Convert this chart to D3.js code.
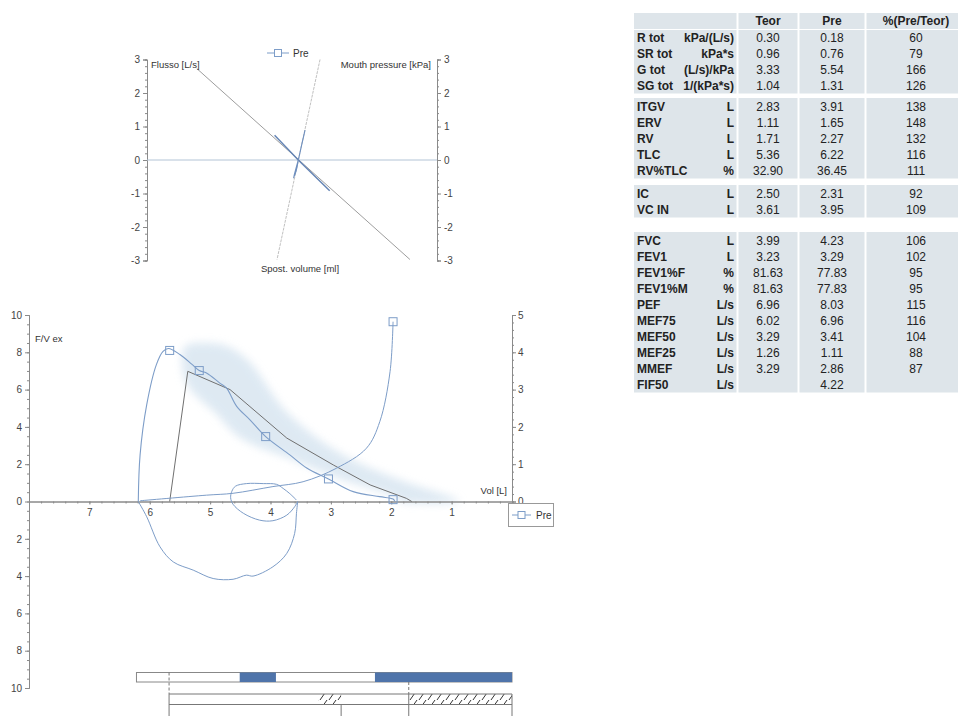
<!DOCTYPE html>
<html>
<head>
<meta charset="utf-8">
<script src="https://cdn.jsdelivr.net/npm/d3@7"></script>
<style>
body { margin: 0; background: #fff; }
svg text { font-family: "Liberation Sans", Arial, sans-serif; }
</style>
</head>
<body>
<div id="main"></div>
<script>
// ---- top chart (resistance loop) ----
const topFlowLine = [[-1.97, 2.73], [2.44, -2.97]];
const topVolLine = [[0.58, 3.0], [-0.31, -2.97]];
const topLoopDiag = [[-0.36, 0.74], [0.13, 0.0], [0.78, -0.92]];
const topLoopSteep = [[0.27, 0.89], [0.2, 0.45], [0.13, 0], [0.03, -0.54], [0.09, -0.3], [0.13, 0]];
const topTicks = [-3, -2, -1, 0, 1, 2, 3];

// ---- flow / volume chart ----
const fvPred = [[5.67, 0], [5.37, 6.98], [4.67, 6.0], [3.73, 3.4], [2.96, 1.96], [2.35, 0.89], [1.75, 0.17], [1.66, 0]];
const fvBandUpper = [[5.42, 8.3], [5.0, 8.5], [4.7, 8.3], [4.35, 7.5], [3.73, 4.8], [2.85, 2.6], [1.86, 1.16], [0.98, 0.2], [0.86, 0]];
const fvBandLower = [[1.85, 0], [1.91, 0.2], [2.85, 1.2], [3.68, 2.3], [4.5, 3.4], [4.9, 4.7], [5.4, 6.4]];
const fvExp = [[6.19, 0], [6.16, 2.5], [6.05, 5.19], [5.89, 7.34], [5.78, 8.05], [5.69, 8.2], [5.5, 7.88], [5.3, 7.35],
  [5.18, 7.02], [5.06, 6.89], [4.84, 6.35], [4.73, 6.09], [4.56, 5.1], [4.34, 4.38], [4.08, 3.48], [3.68, 2.5],
  [3.4, 1.8], [3.04, 1.21], [2.63, 0.53], [2.19, 0.26], [1.97, 0.13], [1.94, 0]];
const fvInsp = [[6.19, 0], [6.05, -0.82], [5.83, -2.43], [5.61, -3.24], [5.28, -3.68], [4.95, -4.13], [4.62, -4.17],
  [4.4, -3.95], [4.29, -4.0], [3.96, -3.5], [3.73, -2.78], [3.6, -1.71], [3.57, -0.63], [3.55, 0]];
const fvTidal = [[3.55, 0], [3.6, -0.28], [3.73, -0.73], [3.96, -1.03], [4.18, -1.0], [4.45, -0.63], [4.62, -0.15],
  [4.66, 0.2], [4.64, 0.55], [4.58, 0.82], [4.4, 0.96], [4.12, 0.96], [3.9, 0.92], [3.79, 0.7], [3.68, 0.42], [3.57, 0.08]];
const fvVolTime = [[6.16, 0.02], [5.06, 0.17], [4.62, 0.22], [3.96, 0.4], [3.46, 0.53], [2.91, 0.89], [2.41, 1.43],
  [2.19, 2.14], [2.02, 3.48], [1.97, 4.82]];
const fvMarkers = [[5.67, 8.1], [5.18, 7.02], [4.08, 3.48], [3.04, 1.21], [1.97, 0.1]];
const volTimeMarkers = [[1.97, 4.82]];
const xTicks = [7, 6, 5, 4, 3, 2, 1];
const yLeftTicks = [-10, -8, -6, -4, -2, 0, 2, 4, 6, 8, 10];
const yRightTicks = [0, 1, 2, 3, 4, 5];

// ---- lung volume bars ----
const barMeasured = [6.22, 0];
const barMeasuredFill = [[4.51, 3.91], [2.27, 0]];
const barPred = [5.68, 0];
const barPredHatch = [[3.21, 2.83], [1.71, 0]];

// ---- table ----
const tabHeader = ["Teor", "Pre", "%(Pre/Teor)"];
const tabLabels = ["R tot", "SR tot", "G tot", "SG tot", "ITGV", "ERV", "RV", "TLC", "RV%TLC", "IC", "VC IN",
  "FVC", "FEV1", "FEV1%F", "FEV1%M", "PEF", "MEF75", "MEF50", "MEF25", "MMEF", "FIF50"];
const tabUnits = ["kPa/(L/s)", "kPa*s", "(L/s)/kPa", "1/(kPa*s)", "L", "L", "L", "L", "%", "L", "L",
  "L", "L", "%", "%", "L/s", "L/s", "L/s", "L/s", "L/s", "L/s"];
const tabTeor = ["0.30", "0.96", "3.33", "1.04", "2.83", "1.11", "1.71", "5.36", "32.90", "2.50", "3.61",
  "3.99", "3.23", "81.63", "81.63", "6.96", "6.02", "3.29", "1.26", "3.29", ""];
const tabPre = ["0.18", "0.76", "5.54", "1.31", "3.91", "1.65", "2.27", "6.22", "36.45", "2.31", "3.95",
  "4.23", "3.29", "77.83", "77.83", "8.03", "6.96", "3.41", "1.11", "2.86", "4.22"];
const tabPct = ["60", "79", "166", "126", "138", "148", "132", "116", "111", "92", "109",
  "106", "102", "95", "95", "115", "116", "104", "88", "87", ""];
const tabGroups = [4, 5, 2, 10];

const blue = "#7d9dc8";
const plain = d => String(d);

const svg = d3.select("#main").append("svg")
  .attr("width", 958).attr("height", 716);

const defs = svg.append("defs");
defs.append("filter").attr("id", "soft")
  .append("feGaussianBlur").attr("stdDeviation", 4);
const hatch = defs.append("pattern").attr("id", "hatch")
  .attr("patternUnits", "userSpaceOnUse").attr("width", 9).attr("height", 10);
hatch.append("path").attr("d", "M-4,10 L3,0 M5,10 L12,0")
  .attr("stroke", "#333").attr("stroke-width", 1);

function styleAxis(g) {
  g.selectAll("path, line").attr("stroke", "#8a8a8a");
  g.selectAll("text").attr("fill", "#444").style("font-size", "10px");
}

function CreateTop() {
  let x = d3.scaleLinear().domain([-3, 3]).range([147, 437]);
  let y = d3.scaleLinear().domain([-3, 3]).range([260.5, 59.5]);
  let g = svg.append("g");
  let minor = d3.range(-3, 3.01, 0.2);

  g.append("g").attr("transform", "translate(147,0)")
    .call(d3.axisLeft(y).tickValues(minor).tickSize(2).tickFormat(""))
    .call(styleAxis);
  g.append("g").attr("transform", "translate(147,0)")
    .call(d3.axisLeft(y).tickValues(topTicks).tickSize(4).tickPadding(3).tickFormat(plain))
    .call(styleAxis);
  g.append("g").attr("transform", "translate(437,0)")
    .call(d3.axisRight(y).tickValues(minor).tickSize(2).tickFormat(""))
    .call(styleAxis);
  g.append("g").attr("transform", "translate(437,0)")
    .call(d3.axisRight(y).tickValues(topTicks).tickSize(4).tickPadding(3).tickFormat(plain))
    .call(styleAxis);

  g.append("line")
    .attr("x1", x(-3)).attr("x2", x(3)).attr("y1", y(0)).attr("y2", y(0))
    .attr("stroke", "#b3c4d6");

  let line = d3.line().x(d => x(d[0])).y(d => y(d[1]));
  g.append("path").attr("d", line(topFlowLine))
    .attr("fill", "none").attr("stroke", "#9d9d9d").attr("stroke-width", 1);
  g.append("path").attr("d", line(topVolLine))
    .attr("fill", "none").attr("stroke", "#b0b0b0").attr("stroke-width", 0.8)
    .attr("stroke-dasharray", "3,1");
  g.append("path").attr("d", line(topLoopDiag))
    .attr("fill", "none").attr("stroke", "#6585b5").attr("stroke-width", 1.5);
  g.append("path").attr("d", line.curve(d3.curveCatmullRom)(topLoopSteep))
    .attr("fill", "none").attr("stroke", "#6e8fbf").attr("stroke-width", 1.1);

  // labels
  g.append("text").attr("x", 151).attr("y", 68).text("Flusso [L/s]")
    .style("font-size", "9.5px").attr("fill", "#333");
  g.append("text").attr("x", 431).attr("y", 68).attr("text-anchor", "end").text("Mouth pressure [kPa]")
    .style("font-size", "9.5px").attr("fill", "#333");
  g.append("text").attr("x", 300).attr("y", 272).attr("text-anchor", "middle").text("Spost. volume [ml]")
    .style("font-size", "9.5px").attr("fill", "#333");

  // legend
  g.append("line").attr("x1", 267).attr("x2", 289).attr("y1", 53).attr("y2", 53)
    .attr("stroke", blue);
  g.append("rect").attr("x", 274.5).attr("y", 49.5).attr("width", 7).attr("height", 7)
    .attr("fill", "#fff").attr("stroke", blue);
  g.append("text").attr("x", 293).attr("y", 57).text("Pre")
    .style("font-size", "10px").attr("fill", "#333");
}

function CreateFlowVolume() {
  let x = d3.scaleLinear().domain([8, 0]).range([29, 512]);
  let y = d3.scaleLinear().domain([-10, 10]).range([688, 315]);
  let yr = d3.scaleLinear().domain([0, 5]).range([501.5, 315]);
  let g = svg.append("g");

  // predicted band
  let band = fvBandUpper.concat(fvBandLower);
  g.append("path")
    .attr("d", d3.line().x(d => x(d[0])).y(d => y(d[1])).curve(d3.curveCatmullRomClosed)(band))
    .attr("fill", "#d6e4f0").attr("opacity", 0.8).attr("filter", "url(#soft)");

  // axes
  g.append("g").attr("transform", `translate(0,${y(0)})`)
    .call(d3.axisBottom(x).tickValues(d3.range(0.2, 8, 0.2)).tickSize(2).tickFormat(""))
    .call(styleAxis);
  g.append("g").attr("transform", `translate(0,${y(0)})`)
    .call(d3.axisBottom(x).tickValues(xTicks).tickSize(3).tickPadding(4).tickFormat(plain))
    .call(styleAxis);
  g.append("g").attr("transform", "translate(29,0)")
    .call(d3.axisLeft(y).tickValues(d3.range(-10, 10.01, 0.5)).tickSize(2).tickFormat(""))
    .call(styleAxis);
  g.append("g").attr("transform", "translate(29,0)")
    .call(d3.axisLeft(y).tickValues(yLeftTicks).tickSize(4).tickPadding(3).tickFormat(d => Math.abs(d)))
    .call(styleAxis);
  g.append("g").attr("transform", `translate(${x(0)},0)`)
    .call(d3.axisRight(yr).tickValues(d3.range(0, 5.01, 0.2)).tickSize(2).tickFormat(""))
    .call(styleAxis);
  g.append("g").attr("transform", `translate(${x(0)},0)`)
    .call(d3.axisRight(yr).tickValues(yRightTicks).tickSize(4).tickPadding(2).tickFormat(plain))
    .call(styleAxis);

  let line = d3.line().x(d => x(d[0])).y(d => y(d[1]));
  let smooth = d3.line().x(d => x(d[0])).y(d => y(d[1])).curve(d3.curveCatmullRom);
  let smoothR = d3.line().x(d => x(d[0])).y(d => yr(d[1])).curve(d3.curveCatmullRom);

  g.append("path").attr("d", line(fvPred))
    .attr("fill", "none").attr("stroke", "#707070").attr("stroke-width", 1);
  g.append("path").attr("d", smooth(fvExp))
    .attr("fill", "none").attr("stroke", blue).attr("stroke-width", 1.1);
  g.append("path").attr("d", smooth(fvInsp))
    .attr("fill", "none").attr("stroke", blue).attr("stroke-width", 1);
  g.append("path").attr("d", smooth(fvTidal))
    .attr("fill", "none").attr("stroke", blue).attr("stroke-width", 1);
  g.append("path").attr("d", smoothR(fvVolTime))
    .attr("fill", "none").attr("stroke", blue).attr("stroke-width", 1);

  g.selectAll(".mk").data(fvMarkers).enter().append("rect")
    .attr("x", d => x(d[0]) - 4).attr("y", d => y(d[1]) - 4)
    .attr("width", 8).attr("height", 8)
    .attr("fill", "none").attr("stroke", blue);
  g.selectAll(".mkr").data(volTimeMarkers).enter().append("rect")
    .attr("x", d => x(d[0]) - 4).attr("y", d => yr(d[1]) - 4)
    .attr("width", 8).attr("height", 8)
    .attr("fill", "none").attr("stroke", blue);

  g.append("text").attr("x", 35).attr("y", 342).text("F/V ex")
    .style("font-size", "9.5px").attr("fill", "#333");
  g.append("text").attr("x", 507).attr("y", 494).attr("text-anchor", "end").text("Vol [L]")
    .style("font-size", "9.5px").attr("fill", "#333");

  // legend box
  g.append("rect").attr("x", 508.5).attr("y", 503.5).attr("width", 45).attr("height", 23)
    .attr("fill", "#fff").attr("stroke", "#999");
  g.append("line").attr("x1", 512).attr("x2", 531).attr("y1", 515).attr("y2", 515)
    .attr("stroke", blue);
  g.append("rect").attr("x", 518).attr("y", 511.5).attr("width", 7).attr("height", 7)
    .attr("fill", "#fff").attr("stroke", blue);
  g.append("text").attr("x", 536).attr("y", 519).text("Pre")
    .style("font-size", "10px").attr("fill", "#333");

  // lung volume bars
  let b = svg.append("g");
  b.append("rect").attr("x", x(barMeasured[0])).attr("y", 672.5)
    .attr("width", x(barMeasured[1]) - x(barMeasured[0])).attr("height", 9.5)
    .attr("fill", "#fff").attr("stroke", "#888");
  b.selectAll(".bf").data(barMeasuredFill).enter().append("rect")
    .attr("x", d => x(d[0])).attr("y", 672.5)
    .attr("width", d => x(d[1]) - x(d[0])).attr("height", 9.5)
    .attr("fill", "#4f74aa");
  b.selectAll(".ph").data(barPredHatch).enter().append("rect")
    .attr("x", d => x(d[0])).attr("y", 694)
    .attr("width", d => x(d[1]) - x(d[0])).attr("height", 10.5)
    .attr("fill", "url(#hatch)");
  [694, 704.5].forEach(yy => {
    b.append("line").attr("x1", x(barPred[0])).attr("x2", x(barPred[1]))
      .attr("y1", yy).attr("y2", yy).attr("stroke", "#777");
  });
  b.append("line").attr("x1", x(barPred[0])).attr("x2", x(barPred[0])).attr("y1", 672.5).attr("y2", 694)
    .attr("stroke", "#777").attr("stroke-dasharray", "3,2");
  b.append("line").attr("x1", x(barPredHatch[1][0])).attr("x2", x(barPredHatch[1][0])).attr("y1", 682).attr("y2", 694)
    .attr("stroke", "#777").attr("stroke-dasharray", "3,2");
  [barPred[0], barPredHatch[0][1], barPredHatch[1][0], barPred[1]].forEach(v => {
    b.append("line").attr("x1", x(v)).attr("x2", x(v))
      .attr("y1", v === barPredHatch[0][1] ? 704.5 : 694).attr("y2", 716)
      .attr("stroke", "#777");
  });
}

function CreateTable() {
  let cols = [[634, 736.5], [738.5, 797.5], [799.5, 864.5], [866.5, 958]];
  let groupStart = [37.5, 106.5, 193.5, 240.5];
  let step = 16;
  let rowsY = [];
  let blocks = [[13, 29]];
  tabGroups.forEach((n, gi) => {
    for (let i = 0; i < n; i++) rowsY.push(groupStart[gi] + i * step);
    blocks.push([groupStart[gi] - 8.5, groupStart[gi] + (n - 1) * step + 8]);
  });
  blocks[1][0] = 30;

  let t = svg.append("g");
  blocks.forEach(bl => {
    cols.forEach(c => {
      t.append("rect").attr("x", c[0]).attr("y", bl[0])
        .attr("width", c[1] - c[0]).attr("height", bl[1] - bl[0])
        .attr("fill", "#dee5ea");
    });
  });
  // header
  let cx = [768, 832, 916];
  tabHeader.forEach((h, i) => {
    t.append("text").attr("x", cx[i]).attr("y", 25).attr("text-anchor", "middle")
      .text(h).style("font-size", "12px").style("font-weight", "bold").attr("fill", "#222");
  });
  tabLabels.forEach((lab, i) => {
    let yy = rowsY[i] + 4.5;
    t.append("text").attr("x", 637).attr("y", yy).text(lab)
      .style("font-size", "12px").style("font-weight", "bold").attr("fill", "#222");
    t.append("text").attr("x", 734).attr("y", yy).attr("text-anchor", "end").text(tabUnits[i])
      .style("font-size", "12px").style("font-weight", "bold").attr("fill", "#222");
    [tabTeor[i], tabPre[i], tabPct[i]].forEach((v, j) => {
      t.append("text").attr("x", cx[j]).attr("y", yy).attr("text-anchor", "middle").text(v)
        .style("font-size", "12px").attr("fill", "#222");
    });
  });
}

CreateTop();
CreateFlowVolume();
CreateTable();
</script>
</body>
</html>
